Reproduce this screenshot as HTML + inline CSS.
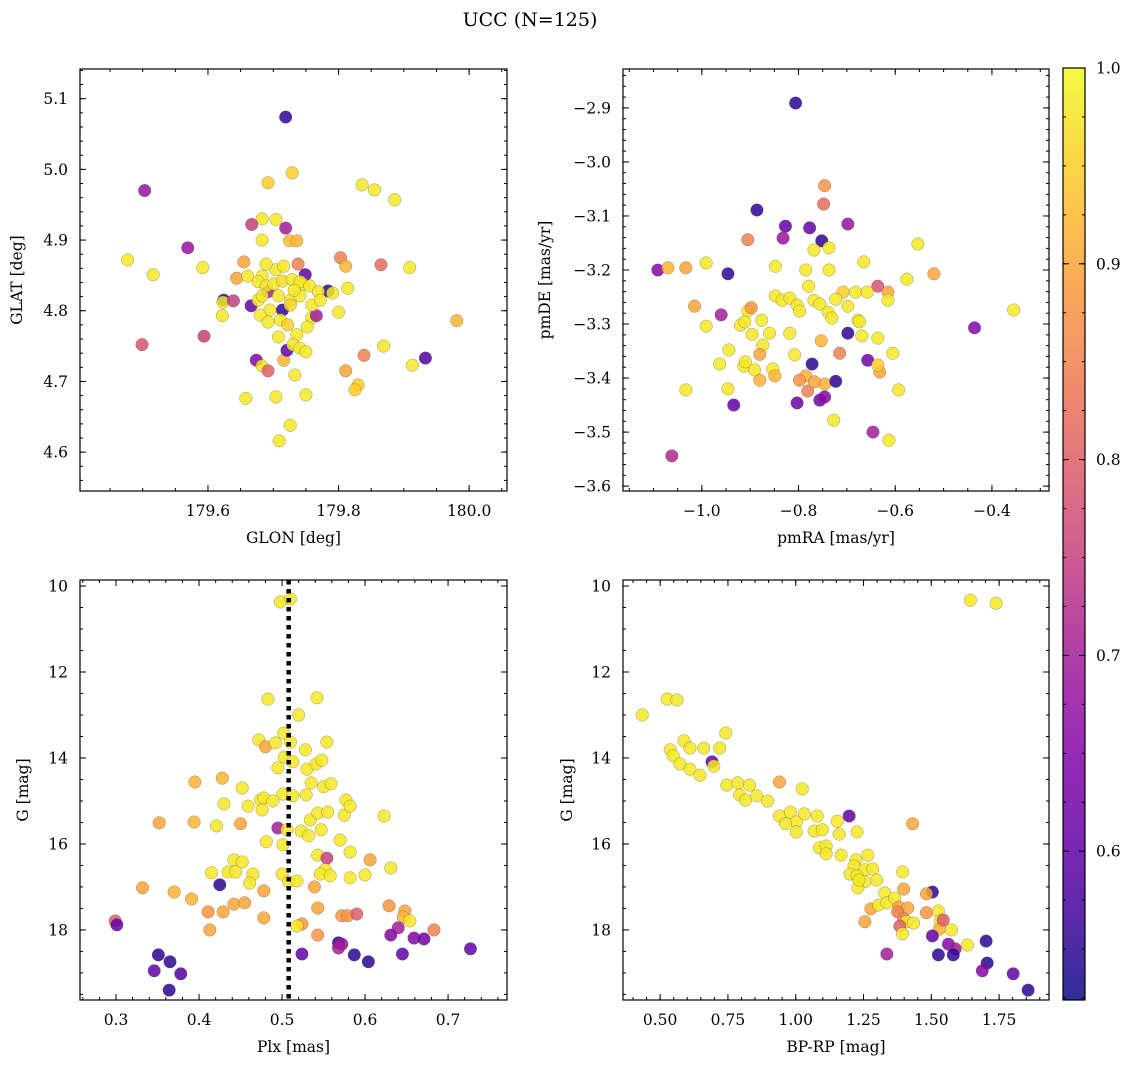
<!DOCTYPE html>
<html><head><meta charset="utf-8"><style>
html,body{margin:0;padding:0;background:#fff}
svg{display:block;font-family:"DejaVu Serif","Liberation Serif",serif}
</style></head><body>
<svg id="chart" width="1136" height="1068" viewBox="0 0 1136 1068" xmlns="http://www.w3.org/2000/svg">
<text x="530" y="26" text-anchor="middle" font-size="19">UCC (N=125)</text>
<defs><linearGradient id="plasma" x1="0" y1="1" x2="0" y2="0"></linearGradient></defs>
</svg>
<script>
// ---- Panel 1: GLON / GLAT ----
const p1Glon=[179.719,179.503,179.692,179.729,179.836,179.855,179.886,179.683,179.704,179.667,179.719,179.569,179.683,179.725,179.736,179.477,179.516,179.592,179.655,179.738,179.803,179.811,179.865,179.909,179.644,179.661,179.683,179.624,179.623,179.639,179.666,179.749,179.746,179.784,179.791,179.814,179.622,179.594,179.499,179.692,179.695,179.714,179.727,179.759,179.766,179.800,179.711,179.722,179.736,179.752,179.708,179.716,179.674,179.683,179.692,179.721,179.730,179.741,179.750,179.733,179.811,179.839,179.869,179.933,179.913,179.658,179.704,179.750,179.830,179.825,179.981,179.726,179.709,179.677,179.689,179.701,179.714,179.729,179.741,179.756,179.769,179.677,179.683,179.708,179.741,179.732,179.759,179.772,179.680,179.692,179.726,179.704,179.716,179.689];
const p1Glat=[5.074,4.970,4.981,4.995,4.978,4.971,4.957,4.930,4.929,4.922,4.917,4.889,4.900,4.899,4.899,4.872,4.851,4.861,4.869,4.866,4.875,4.863,4.865,4.861,4.846,4.849,4.849,4.815,4.812,4.814,4.807,4.851,4.837,4.828,4.825,4.832,4.793,4.764,4.752,4.827,4.801,4.801,4.815,4.790,4.793,4.798,4.787,4.780,4.766,4.777,4.763,4.730,4.730,4.722,4.715,4.744,4.752,4.747,4.742,4.709,4.715,4.737,4.750,4.733,4.723,4.676,4.678,4.681,4.695,4.688,4.786,4.638,4.616,4.841,4.835,4.838,4.842,4.844,4.841,4.835,4.827,4.815,4.821,4.821,4.821,4.829,4.808,4.815,4.794,4.784,4.808,4.858,4.863,4.866];
const p1Prob=[0.55,0.68,0.95,0.95,0.98,0.98,0.98,0.98,0.98,0.75,0.7,0.68,0.98,0.93,0.92,0.98,0.98,0.98,0.9,0.85,0.85,0.92,0.82,0.98,0.9,0.98,0.98,0.55,0.98,0.75,0.6,0.6,0.98,0.55,0.98,0.98,0.98,0.75,0.78,0.7,0.98,0.55,0.98,0.98,0.7,0.98,0.98,0.95,0.98,0.98,0.98,0.92,0.65,0.98,0.8,0.6,0.98,0.98,0.98,0.98,0.9,0.85,0.98,0.58,0.98,0.98,0.98,0.98,0.95,0.95,0.92,0.98,0.98,0.98,0.98,0.98,0.97,0.98,0.98,0.98,0.98,0.98,0.98,0.98,0.98,0.98,0.98,0.98,0.98,0.98,0.96,0.98,0.98,0.98];
// ---- Panel 2: pmRA / pmDE ----
const p2PmRA=[-0.806,-0.746,-0.748,-0.886,-0.827,-0.777,-0.752,-0.698,-0.553,-0.905,-0.832,-0.991,-1.033,-1.091,-1.070,-0.946,-0.520,-0.576,-0.636,-0.615,-0.848,-0.785,-0.737,-0.779,-0.708,-0.768,-0.737,-0.665,-0.682,-0.615,-0.658,-0.355,-0.436,-1.015,-0.991,-0.960,-0.920,-0.896,-0.905,-0.898,-0.848,-0.834,-0.818,-0.803,-0.768,-0.756,-0.739,-0.731,-0.723,-0.698,-0.677,-0.698,-0.674,-0.669,-0.636,-0.605,-0.657,-0.632,-0.753,-0.715,-0.772,-0.808,-0.818,-0.860,-0.874,-0.913,-0.891,-0.944,-0.911,-0.880,-0.853,-0.963,-0.910,-0.876,-0.798,-0.849,-0.785,-0.781,-0.798,-0.746,-0.723,-0.767,-0.946,-0.880,-0.803,-0.756,-0.746,-0.727,-0.636,-0.593,-0.934,-1.033,-0.646,-0.613,-1.062];
const p2PmDE=[-2.891,-3.044,-3.078,-3.089,-3.119,-3.122,-3.146,-3.115,-3.152,-3.144,-3.141,-3.187,-3.196,-3.200,-3.196,-3.207,-3.207,-3.217,-3.230,-3.241,-3.193,-3.200,-3.200,-3.230,-3.241,-3.163,-3.159,-3.185,-3.241,-3.256,-3.241,-3.274,-3.307,-3.267,-3.304,-3.283,-3.302,-3.319,-3.276,-3.270,-3.248,-3.256,-3.252,-3.265,-3.256,-3.263,-3.278,-3.289,-3.254,-3.267,-3.293,-3.317,-3.296,-3.322,-3.326,-3.354,-3.367,-3.389,-3.331,-3.354,-3.374,-3.357,-3.317,-3.317,-3.339,-3.378,-3.385,-3.348,-3.296,-3.356,-3.383,-3.374,-3.370,-3.293,-3.276,-3.396,-3.396,-3.424,-3.404,-3.411,-3.406,-3.407,-3.420,-3.404,-3.446,-3.441,-3.435,-3.478,-3.376,-3.422,-3.450,-3.422,-3.500,-3.515,-3.544];
const p2Prob=[0.55,0.88,0.82,0.55,0.6,0.6,0.55,0.68,0.98,0.85,0.68,0.98,0.9,0.65,0.92,0.55,0.9,0.98,0.78,0.9,0.98,0.98,0.98,0.98,0.95,0.98,0.98,0.98,0.98,0.98,0.98,0.98,0.65,0.9,0.98,0.7,0.98,0.98,0.98,0.88,0.98,0.98,0.98,0.98,0.98,0.98,0.98,0.98,0.98,0.98,0.98,0.55,0.98,0.98,0.98,0.98,0.62,0.9,0.92,0.85,0.55,0.98,0.98,0.98,0.98,0.98,0.98,0.98,0.98,0.9,0.98,0.98,0.98,0.98,0.98,0.92,0.92,0.85,0.88,0.92,0.55,0.9,0.98,0.92,0.62,0.62,0.65,0.98,0.95,0.98,0.6,0.98,0.7,0.98,0.72];
// ---- Panel 3: Plx / G ----
const p3Plx=[0.498,0.510,0.483,0.542,0.520,0.472,0.502,0.480,0.492,0.510,0.528,0.503,0.513,0.530,0.541,0.548,0.395,0.495,0.428,0.452,0.550,0.529,0.474,0.478,0.501,0.513,0.489,0.559,0.577,0.535,0.430,0.459,0.476,0.575,0.582,0.394,0.352,0.450,0.421,0.495,0.506,0.523,0.534,0.543,0.555,0.623,0.570,0.532,0.481,0.501,0.543,0.554,0.582,0.552,0.606,0.631,0.442,0.452,0.435,0.444,0.465,0.500,0.546,0.558,0.582,0.600,0.415,0.461,0.478,0.508,0.518,0.539,0.332,0.370,0.391,0.442,0.455,0.429,0.411,0.543,0.572,0.579,0.590,0.648,0.629,0.478,0.524,0.413,0.425,0.299,0.301,0.683,0.646,0.654,0.640,0.631,0.659,0.671,0.543,0.518,0.568,0.572,0.568,0.524,0.727,0.645,0.587,0.604,0.351,0.346,0.365,0.378,0.364,0.554,0.547];
const p3G=[10.37,10.30,12.63,12.60,13.00,13.58,13.42,13.74,13.65,13.63,13.81,13.98,14.09,14.26,14.14,14.05,14.56,14.23,14.47,14.70,14.67,14.86,14.98,14.93,14.84,14.88,15.00,14.60,14.98,14.58,15.07,15.12,15.21,15.33,15.12,15.49,15.51,15.53,15.58,15.63,15.67,15.70,15.44,15.28,15.26,15.35,15.91,15.81,15.95,16.02,16.26,16.33,16.19,16.60,16.37,16.56,16.37,16.42,16.65,16.65,16.70,16.70,16.70,16.74,16.79,16.72,16.67,16.91,17.09,16.88,16.86,17.00,17.02,17.12,17.28,17.40,17.37,17.58,17.58,17.49,17.67,17.67,17.63,17.56,17.44,17.72,17.86,18.00,16.95,17.79,17.88,18.00,17.70,17.79,17.95,18.12,18.19,18.21,18.12,17.91,18.30,18.33,18.42,18.56,18.44,18.56,18.58,18.74,18.58,18.95,18.74,19.02,19.40,13.63,15.67];
const p3Prob=[0.98,0.98,0.98,0.98,0.98,0.98,0.98,0.9,0.98,0.98,0.98,0.98,0.98,0.98,0.98,0.98,0.92,0.98,0.92,0.98,0.98,0.98,0.98,0.98,0.98,0.98,0.98,0.98,0.98,0.98,0.98,0.98,0.98,0.98,0.98,0.92,0.9,0.9,0.98,0.7,0.98,0.98,0.98,0.98,0.98,0.98,0.98,0.98,0.98,0.98,0.98,0.75,0.98,0.98,0.9,0.98,0.98,0.98,0.98,0.98,0.98,0.98,0.98,0.98,0.98,0.98,0.98,0.98,0.9,0.98,0.98,0.9,0.9,0.92,0.92,0.9,0.9,0.9,0.88,0.9,0.88,0.88,0.8,0.9,0.88,0.9,0.88,0.9,0.55,0.8,0.6,0.85,0.92,0.98,0.7,0.65,0.65,0.62,0.88,0.98,0.55,0.68,0.7,0.6,0.6,0.6,0.55,0.55,0.55,0.6,0.55,0.58,0.55,0.98,0.98];
// ---- Panel 4: BP-RP / G ----
const p4Color=[1.644,1.739,0.434,0.526,0.562,0.742,0.537,0.548,0.588,0.573,0.610,0.661,0.720,0.610,0.647,0.691,0.698,0.746,0.786,0.830,0.940,1.024,0.793,0.815,0.856,0.896,0.940,0.980,1.002,1.032,1.079,0.962,1.002,1.068,1.098,1.153,1.197,1.160,1.087,1.112,1.112,1.167,1.222,1.215,1.255,1.284,1.266,1.200,1.226,1.255,1.299,1.229,1.328,1.233,1.394,1.398,1.504,1.482,1.431,1.277,1.306,1.336,1.365,1.380,1.413,1.376,1.398,1.409,1.435,1.384,1.394,1.482,1.526,1.533,1.530,1.574,1.544,1.504,1.563,1.588,1.633,1.702,1.706,1.688,1.802,1.857,1.526,1.581,1.336,1.255,1.226];
const p4G=[10.33,10.40,13.00,12.63,12.65,13.42,13.81,13.95,13.60,14.14,14.26,13.77,13.77,13.77,14.40,14.09,14.19,14.63,14.58,14.63,14.56,14.72,14.86,14.98,14.88,15.00,15.35,15.26,15.49,15.30,15.35,15.53,15.72,15.70,15.67,15.47,15.35,15.77,16.09,16.05,16.23,16.26,16.37,16.51,16.60,16.58,16.26,16.70,16.74,16.88,16.84,17.02,17.14,16.84,16.65,17.05,17.12,17.16,15.53,17.51,17.42,17.37,17.26,17.47,17.49,17.58,17.74,17.81,17.84,17.91,18.09,17.60,17.56,17.79,17.98,18.00,17.77,18.14,18.33,18.44,18.35,18.26,18.77,18.95,19.02,19.40,18.58,18.58,18.56,17.81,15.72];
const p4Prob=[0.98,0.98,0.98,0.98,0.98,0.98,0.98,0.98,0.98,0.98,0.98,0.98,0.98,0.98,0.98,0.6,0.98,0.98,0.98,0.98,0.9,0.98,0.98,0.98,0.98,0.98,0.98,0.98,0.98,0.98,0.98,0.98,0.98,0.98,0.98,0.98,0.6,0.98,0.98,0.98,0.98,0.98,0.98,0.98,0.98,0.98,0.98,0.98,0.98,0.98,0.98,0.98,0.98,0.98,0.98,0.9,0.55,0.9,0.9,0.9,0.98,0.98,0.98,0.9,0.9,0.85,0.85,0.98,0.98,0.8,0.98,0.88,0.98,0.98,0.92,0.98,0.8,0.6,0.65,0.7,0.98,0.55,0.55,0.65,0.6,0.55,0.55,0.55,0.7,0.9,0.98];
const plxLine=[0.508];
const cbTicks=[0.6,0.7,0.8,0.9,1.0];

const NS="http://www.w3.org/2000/svg";
const svg=document.getElementById('chart');
function mk(tag,attrs,parent){const e=document.createElementNS(NS,tag);for(const k in attrs)e.setAttribute(k,attrs[k]);(parent||svg).appendChild(e);return e;}
const stops=[[13,8,135],[84,2,163],[126,3,168],[163,29,151],[204,71,120],[230,108,92],[248,149,64],[253,196,39],[240,249,33]];
const VMIN=0.524,VMAX=1.0;
function plasma(v){let t=(v-VMIN)/(VMAX-VMIN);t=Math.max(0,Math.min(1,t));const f=t*(stops.length-1);const i=Math.min(stops.length-2,Math.floor(f));const r=f-i;const a=stops[i],b=stops[i+1];return 'rgb('+a.map((c,k)=>Math.round(c+(b[k]-c)*r)).join(',')+')';}
function fmt(v,d){return (v<0?'\u2212':'')+Math.abs(v).toFixed(d);}

function panel(o){
  const g=mk('g',{});
  
  
  const X=v=>o.x0+(v-o.xmin)/(o.xmax-o.xmin)*(o.x1-o.x0);
  const Y=o.invert?(v=>o.y0+(v-o.ymin)/(o.ymax-o.ymin)*(o.y1-o.y0)):(v=>o.y1-(v-o.ymin)/(o.ymax-o.ymin)*(o.y1-o.y0));
  const pg=mk('g',{},g);
  
  
  for(let i=0;i<o.xs.length;i++){
    const c=mk('circle',{cx:X(o.xs[i]),cy:Y(o.ys[i]),r:6.3,fill:plasma(o.cs[i]),'fill-opacity':0.85,stroke:'#555','stroke-width':0.4,'stroke-opacity':0.7},pg);
    
    
  }
  if(o.vline){for(const v of o.vline){const l=mk('line',{x1:X(v),x2:X(v),y1:o.y0,y2:o.y1,stroke:'#000','stroke-width':4.5,'stroke-dasharray':'4.5,4.5'},g);
    
    }}
  const fr=mk('rect',{x:o.x0,y:o.y0,width:o.x1-o.x0,height:o.y1-o.y0,fill:'none',stroke:'#000','stroke-width':1.2},g);
  
  
  const tk=mk('g',{stroke:'#000','stroke-width':1},g);
  const eps=1e-9;
  for(let v=Math.ceil(o.xmin/o.xminor-eps)*o.xminor;v<=o.xmax+eps;v+=o.xminor){const x=X(v);mk('line',{x1:x,x2:x,y1:o.y1,y2:o.y1-3},tk);mk('line',{x1:x,x2:x,y1:o.y0,y2:o.y0+3},tk);}
  for(let v=Math.ceil(o.ymin/o.yminor-eps)*o.yminor;v<=o.ymax+eps;v+=o.yminor){const y=Y(v);mk('line',{x1:o.x0,x2:o.x0+3,y1:y,y2:y},tk);mk('line',{x1:o.x1,x2:o.x1-3,y1:y,y2:y},tk);}
  for(const v of o.xt){const x=X(v);mk('line',{x1:x,x2:x,y1:o.y1,y2:o.y1-6},tk);mk('line',{x1:x,x2:x,y1:o.y0,y2:o.y0+6},tk);
    const t=mk('text',{x:x,y:o.y1+25,'text-anchor':'middle','font-size':15.5},g);t.textContent=fmt(v,o.xd);
    
    }
  for(const v of o.yt){const y=Y(v);mk('line',{x1:o.x0,x2:o.x0+6,y1:y,y2:y},tk);mk('line',{x1:o.x1,x2:o.x1-6,y1:y,y2:y},tk);
    const t=mk('text',{x:o.x0-12,y:y+5.5,'text-anchor':'end','font-size':15.5},g);t.textContent=fmt(v,o.yd);
    
    }
  const xl=mk('text',{x:(o.x0+o.x1)/2,y:o.y1+52,'text-anchor':'middle','font-size':15.5},g);xl.textContent=o.xlabel;
  
  
  const yc=(o.y0+o.y1)/2;
  const yl=mk('text',{x:o.ylx,y:yc,'text-anchor':'middle','font-size':15.5,transform:'rotate(-90 '+o.ylx+' '+yc+')'},g);yl.textContent=o.ylabel;
  
  
}
panel({name:'glon-glat-panel',x0:80,x1:507,y0:69,y1:491,xmin:179.404,xmax:180.058,ymin:4.545,ymax:5.142,xs:p1Glon,ys:p1Glat,cs:p1Prob,xt:[179.6,179.8,180.0],yt:[4.6,4.7,4.8,4.9,5.0,5.1],xd:1,yd:1,xminor:0.05,yminor:0.02,xlabel:'GLON [deg]',ylabel:'GLAT [deg]',ylx:22});
panel({name:'pm-panel',x0:623,x1:1049,y0:69,y1:491,xmin:-1.163,xmax:-0.282,ymin:-3.609,ymax:-2.828,xs:p2PmRA,ys:p2PmDE,cs:p2Prob,xt:[-1.0,-0.8,-0.6,-0.4],yt:[-3.6,-3.5,-3.4,-3.3,-3.2,-3.1,-3.0,-2.9],xd:1,yd:1,xminor:0.05,yminor:0.02,xlabel:'pmRA [mas/yr]',ylabel:'pmDE [mas/yr]',ylx:550});
panel({name:'plx-g-panel',x0:80,x1:507,y0:580,y1:1000,xmin:0.2566,xmax:0.771,ymin:9.86,ymax:19.63,invert:true,xs:p3Plx,ys:p3G,cs:p3Prob,vline:plxLine,xt:[0.3,0.4,0.5,0.6,0.7],yt:[10,12,14,16,18],xd:1,yd:0,xminor:0.02,yminor:0.5,xlabel:'Plx [mas]',ylabel:'G [mag]',ylx:28});
panel({name:'cmd-panel',x0:623,x1:1049,y0:580,y1:1000,xmin:0.363,xmax:1.934,ymin:9.86,ymax:19.63,invert:true,xs:p4Color,ys:p4G,cs:p4Prob,xt:[0.5,0.75,1.0,1.25,1.5,1.75],yt:[10,12,14,16,18],xd:2,yd:0,xminor:0.05,yminor:0.5,xlabel:'BP-RP [mag]',ylabel:'G [mag]',ylx:572});
(function(){
  const grad=document.getElementById('plasma');
  for(let i=0;i<=20;i++){const v=VMIN+(VMAX-VMIN)*i/20;mk('stop',{offset:(i/20),'stop-color':plasma(v),'stop-opacity':0.85},grad);}
  const cx0=1063,cx1=1085,cy0=68,cy1=1000;
  const cb=mk('g',{});
  
  
  mk('rect',{x:cx0,y:cy0,width:cx1-cx0,height:cy1-cy0,fill:'url(#plasma)',stroke:'#000','stroke-width':1.2},cb);
  const Y=v=>cy1-(v-VMIN)/(VMAX-VMIN)*(cy1-cy0);
  for(let v=0.525;v<=1.0001;v+=0.025){mk('line',{x1:cx1,x2:cx1-3,y1:Y(v),y2:Y(v),stroke:'#000'},cb);mk('line',{x1:cx0,x2:cx0+3,y1:Y(v),y2:Y(v),stroke:'#000'},cb);}
  for(const v of cbTicks){const y=Y(v);mk('line',{x1:cx1,x2:cx1-6,y1:y,y2:y,stroke:'#000'},cb);mk('line',{x1:cx0,x2:cx0+6,y1:y,y2:y,stroke:'#000'},cb);
    const t=mk('text',{x:cx1+11,y:y+5.5,'font-size':15.5},cb);t.textContent=v.toFixed(1);
    
    }
})();
</script>
</body></html>
